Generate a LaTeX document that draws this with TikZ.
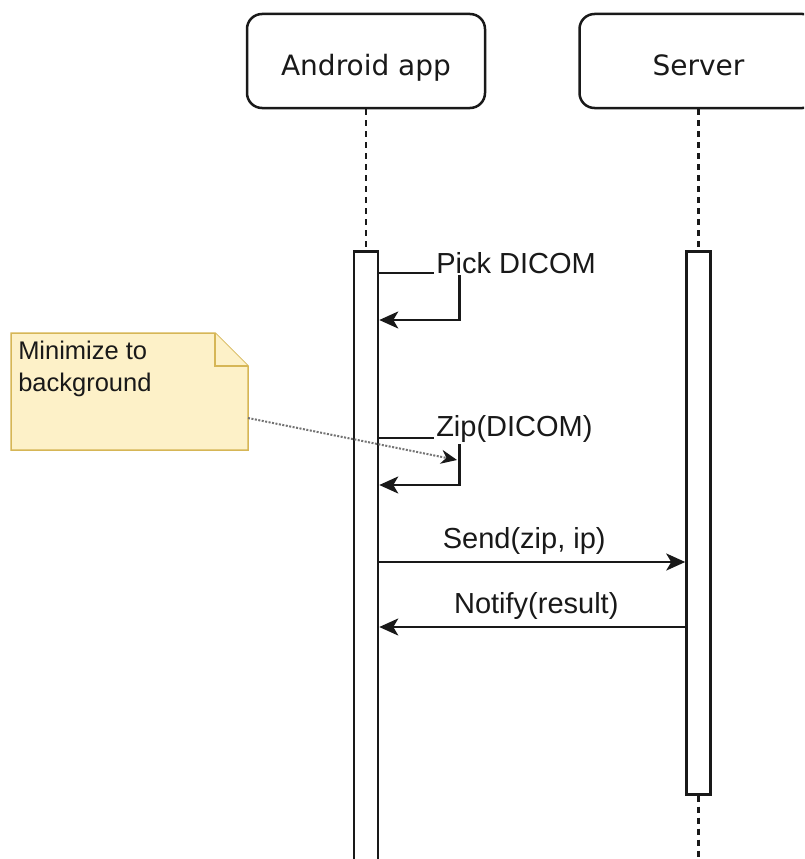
\documentclass[tikz,border=0pt]{standalone}
\usepackage{fontspec}
\setmainfont{Liberation Sans}
\newfontfamily\headfont{DejaVu Sans}
\usetikzlibrary{arrows.meta, positioning}
\definecolor{noteyellow}{RGB}{253,241,200}
\definecolor{noteborder}{RGB}{214,182,86}

\begin{document}
\begin{tikzpicture}[
    x=1pt, y=-1pt,
    node distance=92pt,
    line width=2.5pt,
    >={Stealth[length=19pt, width=17pt, inset=5pt]},
    header/.style={rectangle, draw=black!90, rounded corners=15pt, minimum width=238pt, minimum height=94pt, text height=28pt, text depth=0pt, font=\headfont\fontsize{28pt}{32pt}\selectfont, text=black!90},
    bar/.style={rectangle, draw=black!90, fill=white, minimum width=24pt, inner sep=0pt},
    lifeline/.style={draw=black!90, dash pattern=on 6pt off 5pt},
    msg/.style={draw=black!90, ->},
    msglabel/.style={font=\fontsize{29pt}{33pt}\selectfont, fill=white, inner sep=2pt, text=black!90},
    notebox/.style={rectangle, minimum width=237pt, minimum height=117pt, inner sep=0pt, outer sep=0pt},
    notefill/.style={fill=noteyellow, draw=noteborder, line width=1.5pt},
    notetext/.style={font=\fontsize{25.5pt}{32pt}\selectfont, align=left, inner sep=0pt, text=black!90},
    notelink/.style={draw=black!55, dash pattern=on 2pt off 1.5pt, line width=2pt, -{Stealth[length=16pt, width=14pt, black!90]}}
]
    \useasboundingbox (0,0) rectangle (804,859);
    \fill[white] (0,0) rectangle (804,859);
    \clip (0,0) rectangle (804,859);

    \node[header] (android) at (366,61) {Android app};
    \node[header, right=of android] (server) {Server};

    \coordinate (actstart) at (0,250);
    \coordinate (pageend) at (0,875);
    \node[bar, anchor=north, minimum height=640pt] (appbar) at (android.south |- actstart) {};
    \node[bar, anchor=north, minimum height=543pt] (srvbar) at (server.south |- actstart) {};
    \coordinate (srvend) at (server.south |- pageend);
    \draw[lifeline] (android) -- (appbar);
    \draw[lifeline] (server) -- (srvbar);
    \draw[lifeline] (srvbar.south) -- (srvend);

    \draw[msg] ([yshift=-23pt]appbar.north east) -- ++(80,0) |- ([yshift=-70pt]appbar.north east);
    \node[msglabel, anchor=base west] (pick) at (433,273) {Pick DICOM};

    \draw[msg] ([yshift=-188pt]appbar.north east) -- ++(80,0) |- ([yshift=-235pt]appbar.north east);
    \node[msglabel, anchor=base west] (zip) at (433,436) {Zip(DICOM)};

    \node[notebox] (memo) at (129.5,391.5) {};
    \draw[notefill] (memo.south west) -- (memo.north west) -- ([xshift=-33pt]memo.north east) -- ([yshift=-33pt]memo.north east) -- (memo.south east) -- cycle;
    \draw[notefill] ([xshift=-33pt]memo.north east) |- ([yshift=-33pt]memo.north east);
    \node[notetext, anchor=north west] (memotext) at ([shift={(6pt,-7pt)}]memo.north west) {Minimize to\\background};
    \coordinate (ziphook) at (457,460);
    \draw[notelink] ([yshift=-26.5pt]memo.east) -- (ziphook);

    \coordinate (ysend) at (0,562);
    \coordinate (ynotify) at (0,627);
    \draw[msg] (appbar.east |- ysend) -- node[msglabel, above=4pt, xshift=-8pt] (send) {Send(zip, ip)} (srvbar.west |- ysend);
    \draw[msg] (srvbar.west |- ynotify) -- node[msglabel, above=4pt, xshift=4pt] (notify) {Notify(result)} (appbar.east |- ynotify);
\end{tikzpicture}
\end{document}
